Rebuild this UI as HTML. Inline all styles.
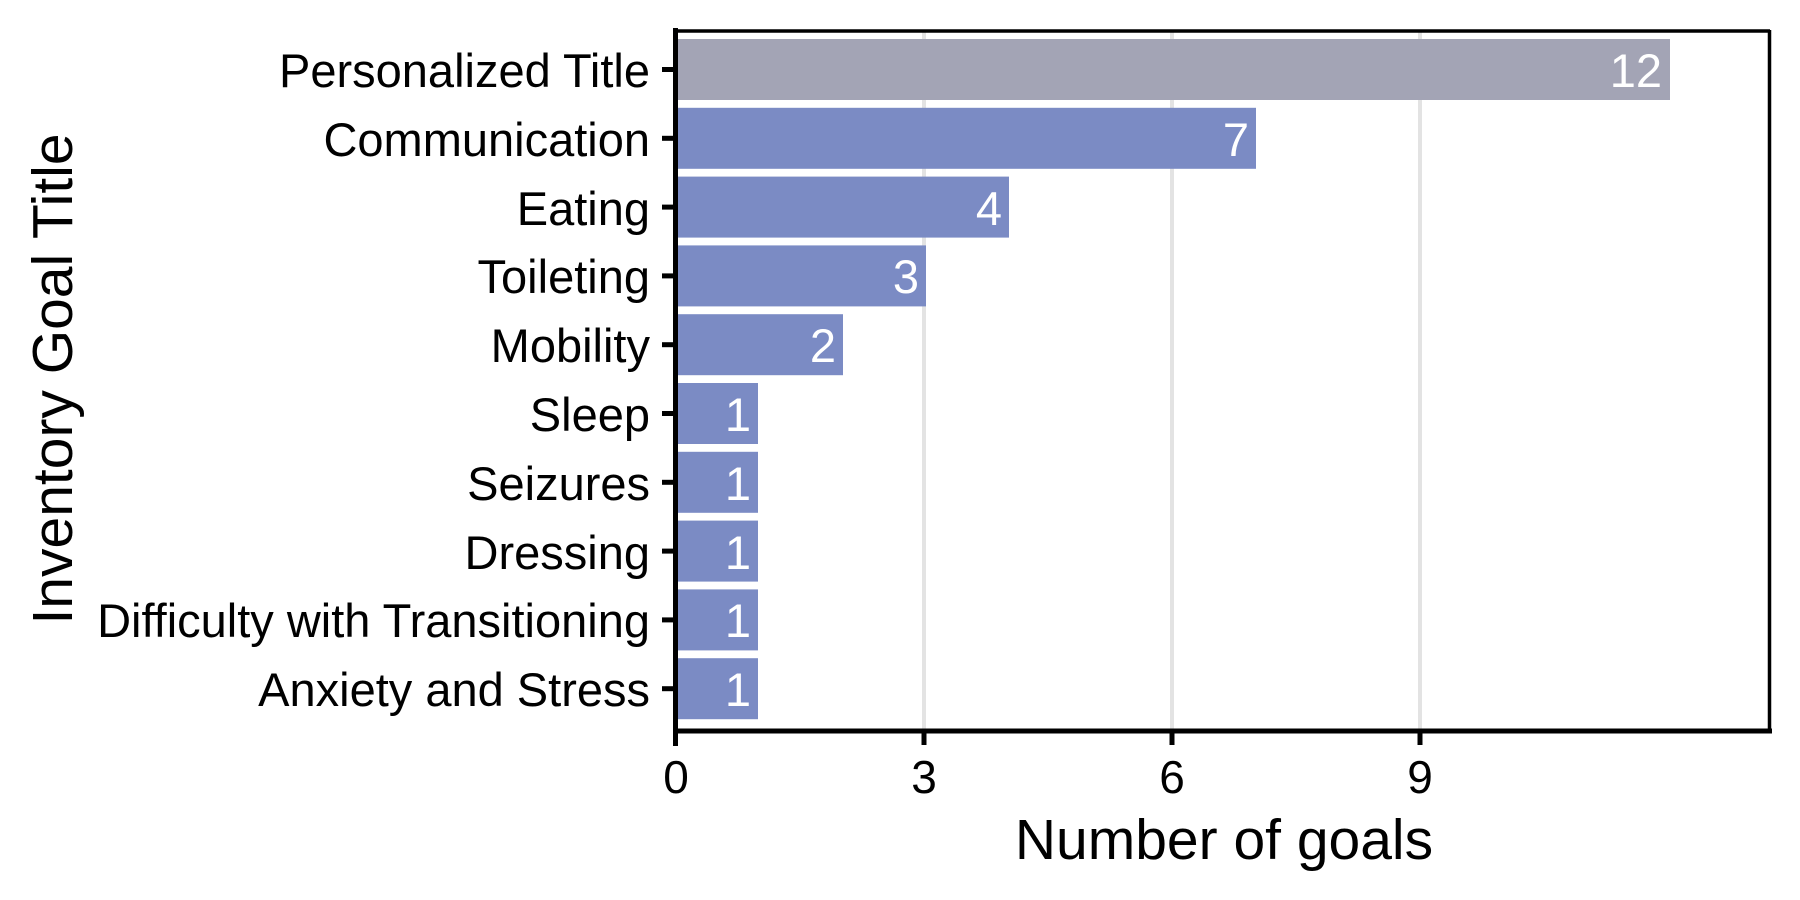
<!DOCTYPE html>
<html><head><meta charset="utf-8"><style>html,body{margin:0;padding:0;background:#fff}svg{display:block}</style></head>
<body>
<svg width="1800" height="900" viewBox="0 0 1800 900" xmlns="http://www.w3.org/2000/svg" font-family="'Liberation Sans', Arial, sans-serif">
<rect width="1800" height="900" fill="#fff"/>
<g stroke="#e3e3e3" stroke-width="4">
<line x1="924" y1="30" x2="924" y2="731"/>
<line x1="1172" y1="30" x2="1172" y2="731"/>
<line x1="1420" y1="30" x2="1420" y2="731"/>
</g>
<g>
<rect x="678" y="39" width="992" height="61" fill="#a3a4b5"/>
<rect x="678" y="107.8" width="578" height="61" fill="#7b8bc4"/>
<rect x="678" y="176.6" width="331" height="61" fill="#7b8bc4"/>
<rect x="678" y="245.4" width="248" height="61" fill="#7b8bc4"/>
<rect x="678" y="314.2" width="165" height="61" fill="#7b8bc4"/>
<rect x="678" y="383" width="80" height="61" fill="#7b8bc4"/>
<rect x="678" y="451.8" width="80" height="61" fill="#7b8bc4"/>
<rect x="678" y="520.6" width="80" height="61" fill="#7b8bc4"/>
<rect x="678" y="589.4" width="80" height="61" fill="#7b8bc4"/>
<rect x="678" y="658.2" width="80" height="61" fill="#7b8bc4"/>
</g>
<g fill="#fff" font-size="47" text-anchor="end">
<text x="1662" y="87">12</text>
<text x="1249" y="156">7</text>
<text x="1002" y="225">4</text>
<text x="919" y="293">3</text>
<text x="836" y="362">2</text>
<text x="751" y="431">1</text>
<text x="751" y="500">1</text>
<text x="751" y="569">1</text>
<text x="751" y="637">1</text>
<text x="751" y="706">1</text>
</g>
<g fill="none" stroke="#000">
<line x1="675.5" y1="28" x2="675.5" y2="746" stroke-width="5"/>
<line x1="674" y1="731" x2="1772" y2="731" stroke-width="5"/>
<line x1="674" y1="31" x2="1770" y2="31" stroke-width="3.5"/>
<line x1="1769.5" y1="30" x2="1769.5" y2="733" stroke-width="3.5"/>
</g>
<g stroke="#000" stroke-width="5">
<line x1="662" y1="69.5" x2="676" y2="69.5"/>
<line x1="662" y1="138.3" x2="676" y2="138.3"/>
<line x1="662" y1="207.1" x2="676" y2="207.1"/>
<line x1="662" y1="275.9" x2="676" y2="275.9"/>
<line x1="662" y1="344.7" x2="676" y2="344.7"/>
<line x1="662" y1="413.5" x2="676" y2="413.5"/>
<line x1="662" y1="482.3" x2="676" y2="482.3"/>
<line x1="662" y1="551.1" x2="676" y2="551.1"/>
<line x1="662" y1="619.9" x2="676" y2="619.9"/>
<line x1="662" y1="688.7" x2="676" y2="688.7"/>
<line x1="924" y1="731" x2="924" y2="745"/>
<line x1="1172" y1="731" x2="1172" y2="745"/>
<line x1="1420" y1="731" x2="1420" y2="745"/>
</g>
<g fill="#000" font-size="47" text-anchor="end">
<text x="650" y="87">Personalized Title</text>
<text x="650" y="156">Communication</text>
<text x="650" y="225">Eating</text>
<text x="650" y="293">Toileting</text>
<text x="650" y="362">Mobility</text>
<text x="650" y="431">Sleep</text>
<text x="650" y="500">Seizures</text>
<text x="650" y="569">Dressing</text>
<text x="650" y="637">Difficulty with Transitioning</text>
<text x="650" y="706">Anxiety and Stress</text>
</g>
<g fill="#000" font-size="46" text-anchor="middle">
<text x="676" y="793">0</text>
<text x="924" y="793">3</text>
<text x="1172" y="793">6</text>
<text x="1420" y="793">9</text>
</g>
<text x="1224" y="859" font-size="57" text-anchor="middle">Number of goals</text>
<text transform="translate(72,379) rotate(-90)" font-size="57" text-anchor="middle">Inventory Goal Title</text>
</svg>
</body></html>
